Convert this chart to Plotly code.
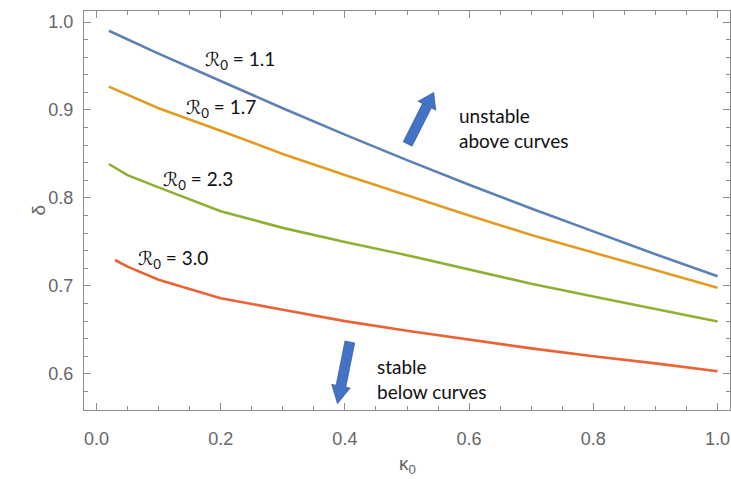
import math
import plotly.graph_objects as go

# ---- data ----
kappa = [0.02, 0.05, 0.1, 0.2, 0.3, 0.4, 0.5, 0.6, 0.7, 0.8, 0.9, 1.0]
kappa_r = [0.03, 0.05, 0.1, 0.2, 0.3, 0.4, 0.5, 0.6, 0.7, 0.8, 0.9, 1.0]
delta_11 = [0.990, 0.980, 0.964, 0.933, 0.902, 0.872, 0.843, 0.815, 0.788, 0.762, 0.736, 0.711]
delta_17 = [0.9265, 0.917, 0.902, 0.8765, 0.850, 0.826, 0.803, 0.780, 0.758, 0.738, 0.718, 0.698]
delta_23 = [0.8386, 0.826, 0.812, 0.785, 0.766, 0.750, 0.735, 0.719, 0.7025, 0.688, 0.674, 0.6595]
delta_30 = [0.7295, 0.722, 0.707, 0.686, 0.673, 0.660, 0.649, 0.639, 0.629, 0.620, 0.612, 0.603]

labels = ["1.1", "1.7", "2.3", "3.0"]
colors = ["#5E81B5", "#E19C24", "#8FB032", "#EB6235"]

x_ticks = [0, 0.2, 0.4, 0.6, 0.8, 1.0]
x_ticktext = ["0.0", "0.2", "0.4", "0.6", "0.8", "1.0"]
y_ticks = [0.6, 0.7, 0.8, 0.9, 1.0]
y_ticktext = ["0.6", "0.7", "0.8", "0.9", "1.0"]

XR = [-0.02, 1.02]
YR = [0.559, 1.0125]
W, H = 731, 479
ML, MR, MT, MB = 84, 1, 11, 69
PW, PH = W - ML - MR, H - MT - MB
SX = PW / (XR[1] - XR[0])
SY = PH / (YR[1] - YR[0])

fig = go.Figure()
for xs, ys, c, lab in zip([kappa, kappa, kappa, kappa_r],
                          [delta_11, delta_17, delta_23, delta_30], colors, labels):
    fig.add_trace(go.Scatter(x=xs, y=ys, mode="lines", line=dict(color=c, width=2.6),
                             name=lab, showlegend=False, hoverinfo="skip"))

# curve labels
lab_pos = [(0.172, 0.957), (0.1415, 0.902), (0.104, 0.8205), (0.0645, 0.7307)]
for (x, y), lab in zip(lab_pos, labels):
    fig.add_annotation(x=x, y=y, xref="x", yref="y", xanchor="left", yanchor="middle",
                       text="\u211b<sub>0</sub> = " + lab, showarrow=False,
                       font=dict(family="Lato, DejaVu Sans", size=19, color="#111111"))

fig.add_annotation(x=0.581, y=0.8795, xref="x", yref="y", xanchor="left", yanchor="middle",
                   text="unstable<br>above curves", align="left", showarrow=False,
                   font=dict(family="Lato, DejaVu Sans", size=19, color="#111111"))
fig.add_annotation(x=0.449, y=0.5943, xref="x", yref="y", xanchor="left", yanchor="middle",
                   text="stable<br>below curves", align="left", showarrow=False,
                   font=dict(family="Lato, DejaVu Sans", size=19, color="#111111"))

# axis titles
fig.add_annotation(x=(38 - ML) / PW, y=0.5, xref="paper", yref="paper",
                   xanchor="center", yanchor="middle",
                   text="\u03b4", textangle=-90, showarrow=False,
                   font=dict(family="Liberation Sans, Arial", size=19, color="#666666"))
fig.add_annotation(x=0.5, y=-(465 - (H - MB)) / PH, xref="paper", yref="paper",
                   xanchor="center", yanchor="middle",
                   text="\u03ba<sub>0</sub>", showarrow=False,
                   font=dict(family="Liberation Sans, Arial", size=19, color="#666666"))


def block_arrow(tail, tip, shaft_w, head_w, head_len):
    tx, ty = tail[0] * SX, tail[1] * SY
    px, py = tip[0] * SX, tip[1] * SY
    dx, dy = px - tx, py - ty
    L = math.hypot(dx, dy)
    ux, uy = dx / L, dy / L
    nx, ny = -uy, ux
    bx, by = px - ux * head_len, py - uy * head_len
    pts = [
        (tx + nx * shaft_w / 2, ty + ny * shaft_w / 2),
        (bx + nx * shaft_w / 2, by + ny * shaft_w / 2),
        (bx + nx * head_w / 2, by + ny * head_w / 2),
        (px, py),
        (bx - nx * head_w / 2, by - ny * head_w / 2),
        (bx - nx * shaft_w / 2, by - ny * shaft_w / 2),
        (tx - nx * shaft_w / 2, ty - ny * shaft_w / 2),
    ]
    path = "M " + " L ".join(f"{x / SX:.5f},{y / SY:.5f}" for x, y in pts) + " Z"
    fig.add_shape(type="path", path=path, xref="x", yref="y",
                  fillcolor="#4472C4", line=dict(color="#2F528F", width=0.6))


block_arrow((0.501, 0.8614), (0.543, 0.920), 10, 20, 15)
block_arrow((0.408, 0.6364), (0.388, 0.566), 10, 19, 18)

axis_common = dict(
    showline=True, linecolor="#8c8c8c", linewidth=1, mirror="ticks",
    ticks="inside", ticklen=7, tickwidth=1, tickcolor="#8c8c8c",
    showgrid=False, zeroline=False, automargin=False,
    tickfont=dict(family="Liberation Sans, Arial", size=18, color="#666666"),
)

fig.update_xaxes(range=XR, tickvals=x_ticks, ticktext=x_ticktext,
                 minor=dict(dtick=0.05, tick0=0, ticks="inside", ticklen=4,
                            tickcolor="#8c8c8c", showgrid=False),
                 ticklabelstandoff=12, **axis_common)
fig.update_yaxes(range=YR, tickvals=y_ticks, ticktext=y_ticktext,
                 minor=dict(dtick=0.02, tick0=0.6, ticks="inside", ticklen=4,
                            tickcolor="#8c8c8c", showgrid=False),
                 ticklabelstandoff=6, **axis_common)

fig.update_layout(width=W, height=H, margin=dict(l=ML, r=MR, t=MT, b=MB, autoexpand=False),
                  plot_bgcolor="white", paper_bgcolor="white", hovermode=False)

fig.write_html("out.html", config={"displayModeBar": False},
               post_script="document.body.style.margin='0';document.body.style.overflow='hidden';")
